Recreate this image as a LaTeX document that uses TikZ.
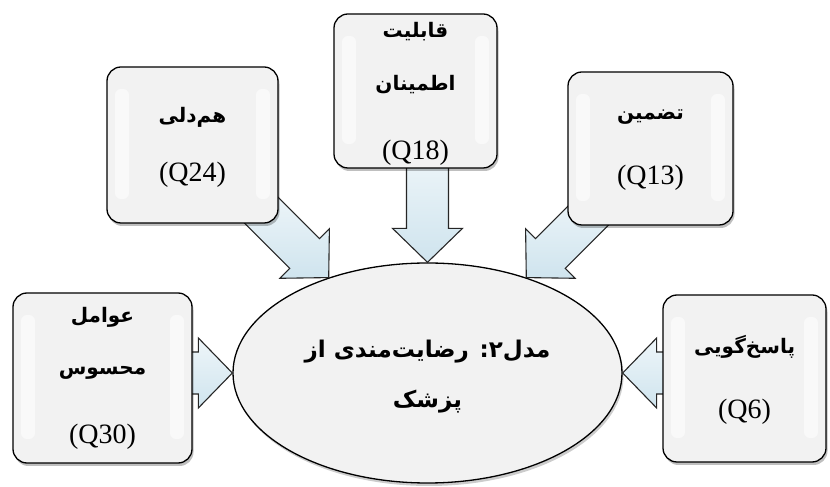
\documentclass[tikz,border=0pt]{standalone}
\usepackage{fontspec}
\setmainfont{Liberation Serif}
\newfontfamily\arabicfont[Script=Arabic]{DejaVu Sans}
\TeXXeTstate=1
\usetikzlibrary{shapes.geometric,shadows}
\definecolor{boxfill}{HTML}{F2F2F2}
\definecolor{arrowblue}{HTML}{CFE4EE}
\newcommand{\fa}[1]{{\arabicfont\beginR #1\endR}}
\newcommand{\blockarrow}[3]{\draw[barrow, shift={#1}, rotate=#2] (0,0) -- (-34,35) -- (-34,21) -- (-#3,21) -- (-#3,-21) -- (-34,-21) -- (-34,-35) -- cycle;}
\begin{document}
\begin{tikzpicture}[x=1pt,y=1pt,
  box/.style={draw=black, line width=1.3pt, rounded corners=14pt, fill=boxfill, inner sep=0pt,
    drop shadow={shadow xshift=1.5pt, shadow yshift=-3pt, opacity=0.25, fill=black},
    path picture={
      \fill[white, opacity=0.55, rounded corners=6pt] ([xshift=8,yshift=-22]path picture bounding box.north west) rectangle ([xshift=22,yshift=24]path picture bounding box.south west);
      \fill[white, opacity=0.55, rounded corners=6pt] ([xshift=-8,yshift=-22]path picture bounding box.north east) rectangle ([xshift=-22,yshift=24]path picture bounding box.south east);}},
  oval/.style={draw=black, line width=1.3pt, ellipse, fill=boxfill, inner sep=0pt,
    drop shadow={shadow xshift=1.5pt, shadow yshift=-3pt, opacity=0.2, fill=black}},
  barrow/.style={draw=black!85, line width=1.1pt, line join=miter, top color=arrowblue!35!white, bottom color=arrowblue},
  fatext/.style={font=\arabicfont\bfseries\fontsize{20}{22}\selectfont, inner sep=0pt},
  qtext/.style={font=\fontsize{28}{30}\selectfont, inner sep=0pt},
  ovtext/.style={font=\arabicfont\bfseries\fontsize{23}{50}\selectfont, align=center, inner sep=0pt}]
\useasboundingbox (0,0) rectangle (830,487);
% central ellipse
\node[oval, minimum width=389, minimum height=220] (ell) at (427.5,114) {};
% arrows (behind boxes)
\blockarrow{(ell.136)}{-45}{100}
\blockarrow{(ell.north)}{-90}{112}
\blockarrow{(ell.44)}{-135}{100}
\blockarrow{(ell.west)}{0}{55}
\blockarrow{(ell.east)}{180}{55}
% boxes
\node[box, minimum width=171, minimum height=156] (b24) at (192.5,342) {};
\node[box, minimum width=163, minimum height=154] (b18) at (415.5,396) {};
\node[box, minimum width=165, minimum height=153] (b13) at (650.5,338.5) {};
\node[box, minimum width=179, minimum height=170] (b30) at (102.5,109) {};
\node[box, minimum width=163, minimum height=167] (b6) at (744.5,108.5) {};
% texts
\node[fatext] (t24) at ([yshift=28]b24.center) {\fa{هم‌دلی}};
\node[qtext] (q24) at ([yshift=-30]b24.center) {(Q24)};
\node[fatext] (t18a) at ([yshift=59]b18.center) {\fa{قابلیت}};
\node[fatext] (t18b) at ([yshift=6]b18.center) {\fa{اطمینان}};
\node[qtext] (q18) at ([yshift=-62]b18.center) {(Q18)};
\node[fatext] (t13) at ([yshift=31.5]b13.center) {\fa{تضمین}};
\node[qtext] (q13) at ([yshift=-29.5]b13.center) {(Q13)};
\node[fatext] (t30a) at ([yshift=61]b30.center) {\fa{عوامل}};
\node[fatext] (t30b) at ([yshift=5]b30.center) {\fa{محسوس}};
\node[qtext] (q30) at ([yshift=-59]b30.center) {(Q30)};
\node[fatext] (t6) at ([yshift=31.5]b6.center) {\fa{پاسخ‌گویی}};
\node[qtext] (q6) at ([yshift=-33.5]b6.center) {(Q6)};
\node[ovtext] (tell) at ([yshift=-4]ell.center) {\fa{مدل۲: رضایت‌مندی از}\\\fa{پزشک}};
\end{tikzpicture}
\end{document}
